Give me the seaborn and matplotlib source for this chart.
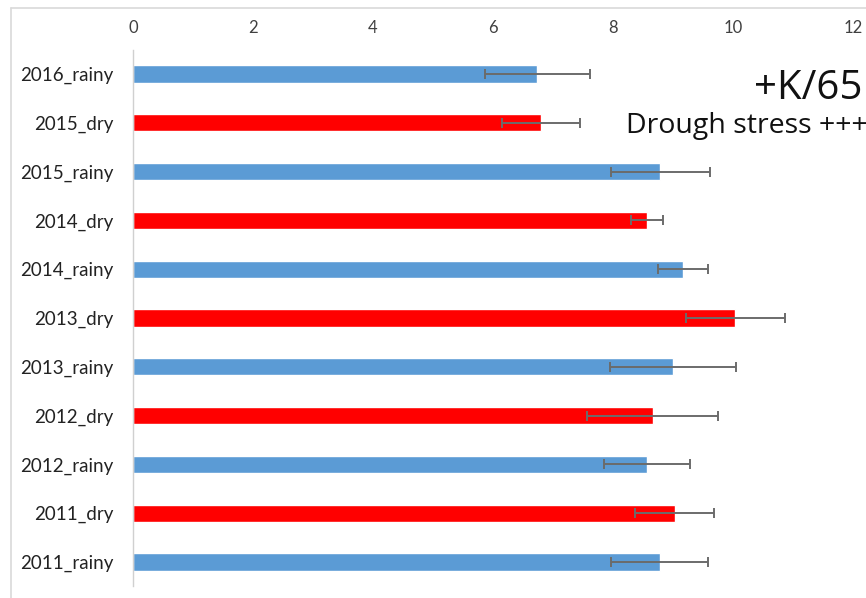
import matplotlib
matplotlib.use("Agg")
import matplotlib.pyplot as plt
from matplotlib.lines import Line2D
import seaborn as sns
import pandas as pd

# Seasonal means and error (± half-width), listed top to bottom
categories = ["2016_rainy", "2015_dry", "2015_rainy", "2014_dry", "2014_rainy",
              "2013_dry", "2013_rainy", "2012_dry", "2012_rainy", "2011_dry",
              "2011_rainy"]
values = [6.74, 6.80, 8.79, 8.57, 9.17, 10.04, 9.00, 8.66, 8.57, 9.03, 8.78]
errors = [0.87, 0.65, 0.83, 0.27, 0.42, 0.83, 1.05, 1.09, 0.72, 0.66, 0.81]
seasons = ["rainy", "dry", "rainy", "dry", "rainy", "dry", "rainy", "dry",
           "rainy", "dry", "rainy"]
x_ticks = [0, 2, 4, 6, 8, 10, 12]

palette = {"rainy": "#5B9BD5", "dry": "#FF0000"}

df = pd.DataFrame({"category": categories, "value": values,
                   "error": errors, "season": seasons})

sns.set_theme(style="white")
plt.rcParams["font.family"] = ["Lato", "DejaVu Sans"]

W, H = 866, 598
fig = plt.figure(figsize=(W / 100, H / 100), dpi=100)
ax = fig.add_axes([133 / W, 1 - 586.4 / H, (853 - 133) / W, (586.4 - 49.6) / H])

sns.barplot(data=df, y="category", x="value", hue="season", palette=palette,
            order=categories, dodge=False, width=0.35, legend=False,
            errorbar=None, ax=ax, saturation=1)

ax.errorbar(df["value"], range(len(categories)), xerr=df["error"],
            fmt="none", ecolor="#6b6b6b", elinewidth=1.4, capsize=3.5,
            capthick=1.4)

ax.set_xlim(0, 12)
ax.set_ylim(len(categories) - 0.5, -0.5)
ax.set_xticks(x_ticks)
ax.set_xticklabels([str(t) for t in x_ticks])
ax.xaxis.tick_top()
ax.tick_params(axis="x", length=0, pad=10, labelsize=12, colors="#404040")
ax.tick_params(axis="y", length=0, pad=14, labelsize=13.5, colors="#222222")
ax.set_xlabel("")
ax.set_ylabel("")
for side in ["top", "right", "bottom"]:
    ax.spines[side].set_visible(False)
ax.spines["left"].set_color("#d0d0d0")
ax.spines["left"].set_linewidth(1.0)

# Annotation in the upper right
fig.text(862 / W, 1 - 89 / H, "+K/65", ha="right", va="center",
         fontsize=29, color="#111111", family=["Open Sans", "DejaVu Sans"])
fig.text(626 / W, 1 - 126 / H, "Drough stress +++", ha="left", va="center",
         fontsize=20.5, color="#111111", family=["Open Sans", "DejaVu Sans"])

# Light frame around the chart area
fig.add_artist(Line2D([11 / W, 11 / W], [0, 1 - 8 / H],
                      transform=fig.transFigure, color="#d9d9d9", lw=1.2))
fig.add_artist(Line2D([11 / W, 1], [1 - 8 / H, 1 - 8 / H],
                      transform=fig.transFigure, color="#d9d9d9", lw=1.2))

fig.savefig("out.png", dpi=100)
